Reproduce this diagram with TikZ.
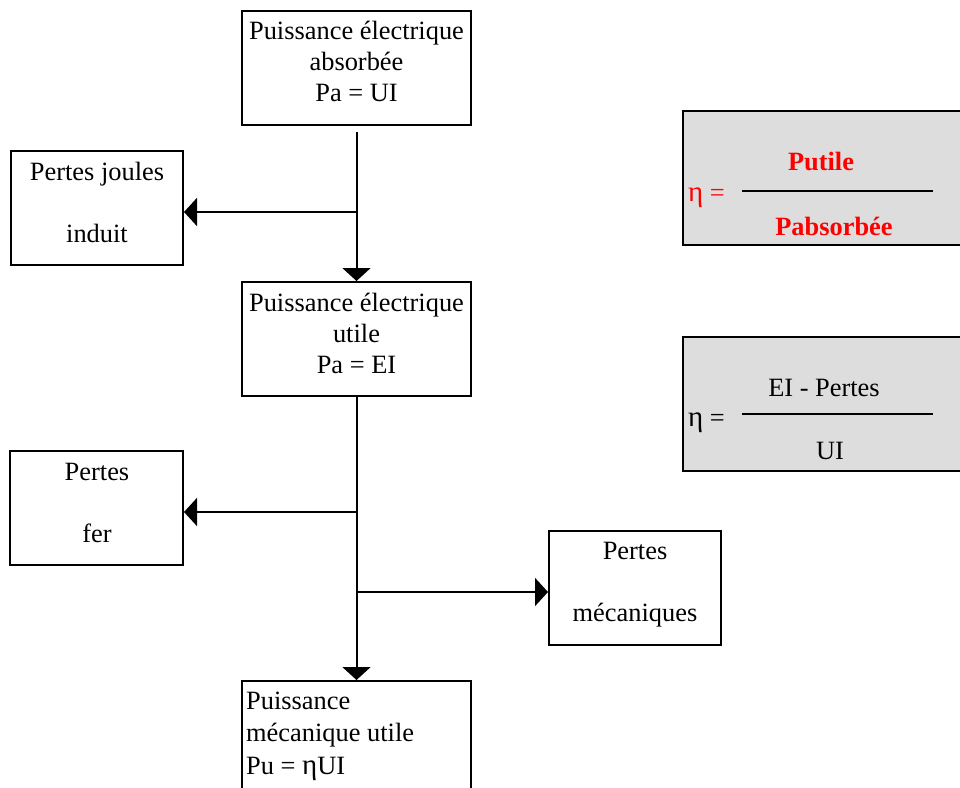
\documentclass[tikz,border=0pt]{standalone}
\usepackage{fontspec}
\setmainfont{Liberation Serif}
\usetikzlibrary{arrows.meta}
\definecolor{boxgray}{RGB}{221,221,221}
\definecolor{fred}{RGB}{255,0,0}
\newcommand{\myeta}{{\fontsize{29}{31}\selectfont η}}
\begin{document}
\begin{tikzpicture}[x=1pt,y=-1pt,
  box/.style={draw, line width=2pt, rectangle, inner sep=0pt},
  fbox/.style={draw, line width=2pt, rectangle, inner sep=0pt, fill=boxgray},
  txt/.style={inner sep=0pt, align=center, font=\fontsize{26.4}{31}\selectfont},
  conn/.style={line width=2pt},
  arr/.style={line width=2pt, -{Triangle[length=13pt,width=28pt]}}]
\useasboundingbox (0,0) rectangle (960,787);
\clip (0,0) rectangle (960,787);
% main boxes
\node[box, minimum width=229pt, minimum height=114pt] (A) at (356.5,68) {};
\node[txt] (At) at (356.5,61) {Puissance électrique\\absorbée\\Pa = UI};
\node[box, minimum width=229pt, minimum height=114pt] (B) at (356.5,339) {};
\node[txt] (Bt) at (356.5,333) {Puissance électrique\\utile\\Pa = EI};
\node[box, minimum width=229pt, minimum height=120pt] (C) at (356.5,741) {};
\node[txt, align=left, anchor=west, font=\fontsize{26.4}{32.5}\selectfont] (Ct) at (246,736) {Puissance\\mécanique utile\\Pu = \myeta UI};
% loss boxes
\node[box, minimum width=172pt, minimum height=114pt] (PJ) at (97,208) {};
\node[txt] (PJt) at (97,202) {Pertes joules\\[31pt]induit};
\node[box, minimum width=173pt, minimum height=114pt] (PF) at (96.5,508) {};
\node[txt] (PFt) at (97,503) {Pertes\\[31pt]fer};
\node[box, minimum width=172pt, minimum height=114pt] (PM) at (635,588) {};
\node[txt] (PMt) at (635,585) {Pertes\\[31pt]mécaniques};
% connectors
\coordinate (j1) at (357,212);
\coordinate (j2) at (357,512);
\coordinate (j3) at (357,592);
\draw[arr] ([yshift=-6pt]A.south) -- (B.north);
\draw[arr] (j1) -- (PJ.east |- j1);
\draw[arr] (B.south) -- (C.north);
\draw[arr] (j2) -- (PF.east |- j2);
\draw[arr] (j3) -- (PM.west |- j3);
% formula boxes
\node[fbox, minimum width=317pt, minimum height=134pt] (F1) at (841.5,178) {};
\node[txt, anchor=west, text=fred] (F1e) at (688,198) {\myeta\ =};
\node[txt, text=fred, font=\fontsize{26.4}{31}\selectfont\bfseries] (F1n) at (821,161) {Putile};
\node[txt, text=fred, font=\fontsize{26.4}{31}\selectfont\bfseries] (F1d) at (834,226) {Pabsorbée};
\coordinate (f1a) at (742,191);
\coordinate (f1b) at (933,191);
\draw[conn] (f1a) -- (f1b);
\node[fbox, minimum width=317pt, minimum height=134pt] (F2) at (841.5,404) {};
\node[txt, anchor=west] (F2e) at (688,423) {\myeta\ =};
\node[txt] (F2n) at (824,388) {EI - Pertes};
\node[txt] (F2d) at (830,451) {UI};
\coordinate (f2a) at (742,414);
\coordinate (f2b) at (933,414);
\draw[conn] (f2a) -- (f2b);
\end{tikzpicture}
\end{document}
